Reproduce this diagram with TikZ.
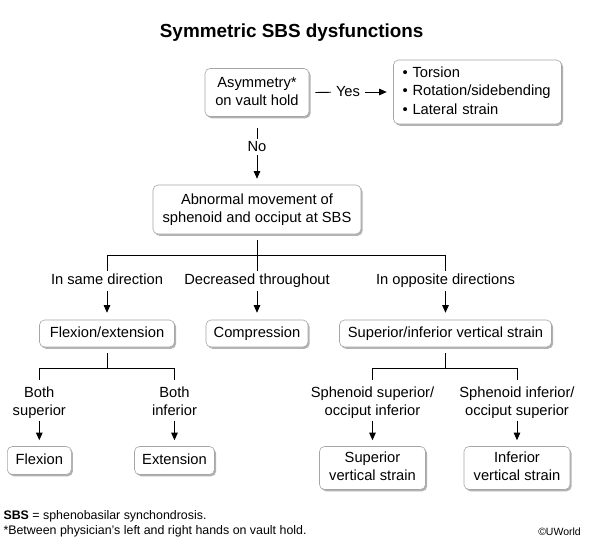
\documentclass[tikz,border=0pt]{standalone}
\usepackage{fontspec}
\setmainfont{Liberation Sans}
\usetikzlibrary{arrows.meta,shadows}
\newcommand\lstr{\rule[-3pt]{0pt}{13.7pt}}
\begin{document}
\begin{tikzpicture}[x=1pt,y=-1pt,
  every node/.style={font=\fontsize{14.7}{18}\selectfont, inner sep=0pt},
  box/.style={draw=black!35, line width=0.6pt, fill=white, rounded corners=5pt, align=center,
    drop shadow={shadow xshift=1.6pt, shadow yshift=-1.8pt, opacity=0.3, fill=black}},
  lab/.style={align=center, inner xsep=0pt, inner ysep=3pt, anchor=north},
  conn/.style={line width=0.9pt},
  arr/.style={conn, -{Triangle[length=7.5pt,width=6.5pt]}},
]
\fill[white] (0,0) rectangle (590,560);
\useasboundingbox (0,0) rectangle (590,560);

\node[anchor=base, font=\bfseries\fontsize{18.9}{22}\selectfont] (title) at (291.7,37.5) {Symmetric SBS dysfunctions};

\node[box, minimum width=104pt, minimum height=48pt] (asym) at (257,92.5) {\lstr Asymmetry*\\on vault hold\lstr};
\node[box, minimum width=168pt, minimum height=64pt, align=left, text width=150pt,
      font=\fontsize{14.7}{18.7}\selectfont] (bul) at (477.5,92) {\lstr • Torsion\\• Rotation/sidebending\\• Lateral strain\lstr};
\node[inner xsep=5pt] (yes) at (348,92) {Yes};
\draw[conn] ([xshift=6pt]asym.east) -- (yes);
\draw[arr] (yes) -- ([xshift=-6.5pt]bul.west);

\node[box, minimum width=208pt, minimum height=49pt] (abn) at (257,209.5) {\lstr Abnormal movement of\\sphenoid and occiput at SBS\lstr};

\node[inner ysep=3pt] (no) at (257,147) {No};
\draw[conn] ([yshift=-11pt]asym.south) -- (no);
\draw[arr, shorten >=6pt] (no) -- (abn.north);

\coordinate (j1) at (257,255.7);
\node[lab] (d1) at (107,270.8) {\lstr In same direction};
\node[lab] (d2) at (257,270.8) {\lstr Decreased throughout};
\node[lab] (d3) at (445.5,270.8) {\lstr In opposite directions};
\draw[conn, shorten <=6pt] (abn.south) -- (j1);
\draw[conn] (d1.north) |- (j1) -| (d3.north);
\draw[conn] (j1) -- (d2.north);

\node[box, minimum width=135pt, minimum height=27pt] (fe) at (107,333.5) {\lstr Flexion/extension};
\node[box, minimum width=102pt, minimum height=27pt] (comp) at (257,333.5) {\lstr Compression};
\node[box, minimum width=212pt, minimum height=27pt] (si) at (445.5,333.5) {\lstr Superior/inferior vertical strain};
\draw[arr, shorten >=7pt] (d1) -- (fe);
\draw[arr, shorten >=7pt] (d2) -- (comp);
\draw[arr, shorten >=7pt] (d3) -- (si);

\coordinate (j2) at (107,368.3);
\coordinate (j3) at (445.5,368.3);
\draw[conn, shorten <=6pt] (fe.south) -- (j2);
\draw[conn, shorten <=6pt] (si.south) -- (j3);

\node[lab] (b1) at (39.3,383.2) {\lstr Both\\superior\lstr};
\node[lab] (b2) at (174.5,383.2) {\lstr Both\\inferior\lstr};
\node[lab] (b3) at (372.5,383.2) {\lstr Sphenoid superior/\\occiput inferior\lstr};
\node[lab] (b4) at (517,383.2) {\lstr Sphenoid inferior/\\occiput superior\lstr};
\draw[conn, shorten <=3pt, shorten >=3pt] (b1.north) |- (j2) -| (b2.north);
\draw[conn, shorten <=3pt, shorten >=3pt] (b3.north) |- (j3) -| (b4.north);

\node[box, minimum width=64pt, minimum height=28pt] (flex) at (39.3,460.5) {\lstr Flexion};
\node[box, minimum width=80pt, minimum height=28pt] (ext) at (174.5,460.5) {\lstr Extension};
\node[box, minimum width=106pt, minimum height=43pt] (svs) at (372.5,468) {\lstr Superior\\vertical strain\lstr};
\node[box, minimum width=106pt, minimum height=43pt] (ivs) at (517,468) {\lstr Inferior\\vertical strain\lstr};
\draw[arr, shorten >=6pt] (b1) -- (flex);
\draw[arr, shorten >=6pt] (b2) -- (ext);
\draw[arr, shorten >=6pt] (b3) -- (svs);
\draw[arr, shorten >=6pt] (b4) -- (ivs);

\node[anchor=base west, font=\fontsize{12.4}{15}\selectfont] (fn1) at (3.3,519.5) {\textbf{SBS} = sphenobasilar synchondrosis.};
\node[anchor=base west, font=\fontsize{12.4}{15}\selectfont] (fn2) at (3.3,534.5) {*Between physician's left and right hands on vault hold.};
\node[anchor=base east, font=\fontsize{10.5}{12}\selectfont] (cr) at (581,535) {©UWorld};
\end{tikzpicture}
\end{document}
